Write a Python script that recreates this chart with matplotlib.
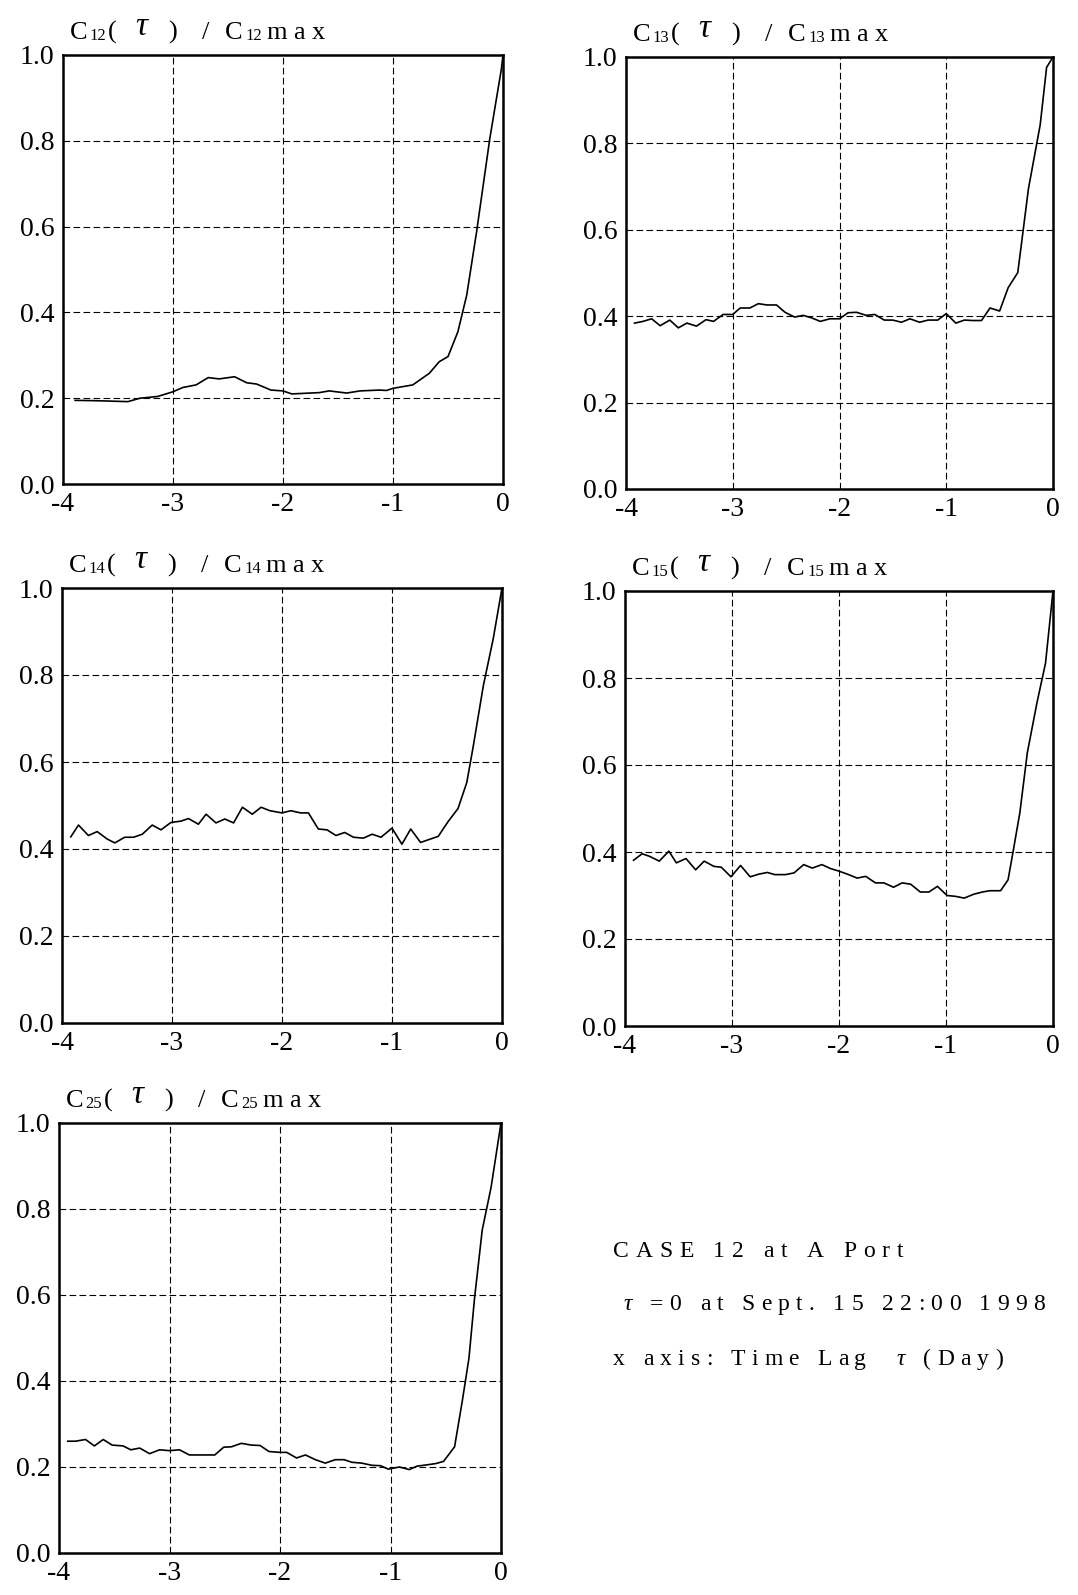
import matplotlib
matplotlib.use("Agg")
import matplotlib.pyplot as plt
from matplotlib.transforms import IdentityTransform
from matplotlib.font_manager import FontProperties

# ---- normalised cross-correlation curves, time lag tau in days ----
tau_c12 = [-3.89, -3.67, -3.41, -3.30, -3.14, -3.00, -2.91, -2.79, -2.68, -2.58,
           -2.44, -2.33, -2.24, -2.11, -2.00, -1.92, -1.67, -1.58, -1.42, -1.30,
           -1.12, -1.06, -1.00, -0.82, -0.67, -0.58, -0.50, -0.41, -0.33, -0.24,
           -0.12, -0.015, 0.0]
c12 = [0.195, 0.194, 0.192, 0.200, 0.204, 0.215, 0.225, 0.231, 0.248, 0.245,
       0.250, 0.236, 0.233, 0.219, 0.217, 0.210, 0.213, 0.217, 0.212, 0.217,
       0.219, 0.218, 0.223, 0.231, 0.258, 0.285, 0.297, 0.355, 0.440, 0.588,
       0.805, 0.967, 1.0]

tau_c13 = [-3.92, -3.84, -3.76, -3.68, -3.59, -3.51, -3.43, -3.34, -3.25, -3.18,
           -3.09, -3.00, -2.93, -2.84, -2.76, -2.68, -2.59, -2.51, -2.42, -2.34,
           -2.26, -2.18, -2.09, -2.00, -1.92, -1.84, -1.75, -1.67, -1.58, -1.50,
           -1.42, -1.34, -1.25, -1.17, -1.08, -1.00, -0.91, -0.83, -0.75, -0.67,
           -0.59, -0.50, -0.42, -0.33, -0.30, -0.23, -0.12, -0.06, 0.0]
c13 = [0.384, 0.388, 0.394, 0.378, 0.391, 0.373, 0.384, 0.377, 0.392, 0.388,
       0.404, 0.404, 0.419, 0.419, 0.429, 0.426, 0.426, 0.409, 0.398, 0.402,
       0.396, 0.388, 0.394, 0.394, 0.408, 0.409, 0.402, 0.404, 0.391, 0.391,
       0.386, 0.394, 0.386, 0.391, 0.391, 0.406, 0.384, 0.391, 0.390, 0.390,
       0.419, 0.412, 0.466, 0.501, 0.559, 0.695, 0.843, 0.976, 1.0]

tau_c14 = [-3.92, -3.85, -3.76, -3.68, -3.59, -3.52, -3.43, -3.35, -3.27, -3.18,
           -3.10, -3.01, -2.92, -2.85, -2.76, -2.69, -2.60, -2.52, -2.44, -2.36,
           -2.27, -2.19, -2.11, -2.00, -1.92, -1.83, -1.76, -1.67, -1.59, -1.51,
           -1.43, -1.35, -1.26, -1.18, -1.10, -1.00, -0.91, -0.83, -0.74, -0.65,
           -0.58, -0.49, -0.40, -0.32, -0.26, -0.17, -0.08, 0.0]
c14 = [0.428, 0.455, 0.431, 0.440, 0.423, 0.414, 0.427, 0.427, 0.434, 0.455,
       0.444, 0.461, 0.464, 0.470, 0.457, 0.480, 0.460, 0.469, 0.460, 0.496,
       0.480, 0.496, 0.488, 0.483, 0.488, 0.483, 0.483, 0.446, 0.444, 0.431,
       0.438, 0.427, 0.425, 0.434, 0.427, 0.448, 0.411, 0.446, 0.415, 0.423,
       0.429, 0.463, 0.493, 0.553, 0.638, 0.775, 0.883, 1.0]

tau_c15 = [-3.92, -3.84, -3.77, -3.68, -3.59, -3.52, -3.43, -3.34, -3.26, -3.17,
           -3.10, -3.01, -2.92, -2.83, -2.75, -2.67, -2.60, -2.50, -2.42, -2.33,
           -2.25, -2.16, -2.08, -2.00, -1.91, -1.83, -1.75, -1.66, -1.58, -1.49,
           -1.41, -1.33, -1.24, -1.16, -1.08, -0.99, -0.91, -0.83, -0.74, -0.66,
           -0.59, -0.49, -0.42, -0.37, -0.31, -0.24, -0.15, -0.07, 0.0]
c15 = [0.381, 0.396, 0.390, 0.379, 0.402, 0.375, 0.385, 0.359, 0.379, 0.367,
       0.365, 0.343, 0.369, 0.343, 0.349, 0.353, 0.348, 0.348, 0.352, 0.371,
       0.363, 0.371, 0.362, 0.356, 0.348, 0.340, 0.344, 0.329, 0.329, 0.319,
       0.329, 0.326, 0.308, 0.308, 0.321, 0.300, 0.298, 0.294, 0.303, 0.308,
       0.311, 0.311, 0.336, 0.405, 0.490, 0.628, 0.743, 0.834, 1.0]

tau_c25 = [-3.92, -3.85, -3.76, -3.68, -3.60, -3.52, -3.42, -3.35, -3.27, -3.18,
           -3.09, -3.00, -2.91, -2.82, -2.73, -2.59, -2.51, -2.44, -2.35, -2.26,
           -2.18, -2.10, -2.00, -1.94, -1.85, -1.77, -1.68, -1.59, -1.50, -1.42,
           -1.35, -1.26, -1.17, -1.09, -1.02, -0.92, -0.83, -0.76, -0.67, -0.59,
           -0.52, -0.42, -0.35, -0.29, -0.24, -0.17, -0.09, 0.0]
c25 = [0.260, 0.260, 0.264, 0.249, 0.264, 0.251, 0.249, 0.240, 0.244, 0.231,
       0.240, 0.238, 0.240, 0.228, 0.228, 0.228, 0.246, 0.247, 0.255, 0.251,
       0.250, 0.236, 0.234, 0.234, 0.221, 0.228, 0.217, 0.209, 0.217, 0.217,
       0.211, 0.209, 0.204, 0.203, 0.195, 0.200, 0.194, 0.202, 0.205, 0.208,
       0.213, 0.247, 0.354, 0.453, 0.591, 0.751, 0.850, 1.0]

pair_ids = ["12", "13", "14", "15", "25"]
x_ticks = [-4, -3, -2, -1, 0]
x_ticklabels = ["-4", "-3", "-2", "-1", "0"]
y_ticks = [0.0, 0.2, 0.4, 0.6, 0.8, 1.0]
y_ticklabels = ["0.0", "0.2", "0.4", "0.6", "0.8", "1.0"]
info_lines = ["CASE 12 at A Port", "\u03c4 =0 at Sept. 15 22:00 1998",
              "x axis: Time Lag  \u03c4 (Day)"]

W, H = 1078, 1595
SERIF = "Liberation Serif"
plt.rcParams["font.family"] = [SERIF, "DejaVu Serif"]
plt.rcParams["axes.unicode_minus"] = False

fig = plt.figure(figsize=(W / 100, H / 100), dpi=100)
fig.patch.set_facecolor("white")
renderer = fig.canvas.get_renderer()
PIX = IdentityTransform()

# panel boxes in pixels: left, top, right, bottom
boxes = [(63, 55, 503, 484), (626, 57, 1053, 489), (62, 588, 502, 1023),
         (625, 591, 1053, 1026), (59, 1123, 501, 1553)]
series = [(tau_c12, c12), (tau_c13, c13), (tau_c14, c14), (tau_c15, c15),
          (tau_c25, c25)]

grid_style = dict(color="black", lw=0.8, ls=(0, (6, 3)), zorder=1)


def put(x, y, s, size, style="normal"):
    fig.text(x, H - y, s, transform=PIX, fontsize=size, fontstyle=style,
             family=[SERIF, "DejaVu Serif"], ha="left", va="baseline",
             color="black")


def advance(ch, size, style="normal"):
    fp = FontProperties(family=SERIF, style=style, size=size)
    w3 = renderer.get_text_width_height_descent("x" + ch + "x", fp, ismath=False)[0]
    w2 = renderer.get_text_width_height_descent("xx", fp, ismath=False)[0]
    return w3 - w2


def tracked_line(x, y, text, size, width):
    styles = ["italic" if ch == "\u03c4" else "normal" for ch in text]
    advs = [advance(c, size, s) for c, s in zip(text, styles)]
    gap = (width - sum(advs[:-1]) - advs[-1]) / (len(text) - 1)
    for c, s, a in zip(text, styles, advs):
        if c != " ":
            put(x, y, c, size, s)
        x += a + gap


for (l, t, r, b), (tau, vals), pid in zip(boxes, series, pair_ids):
    ax = fig.add_axes([l / W, 1 - b / H, (r - l) / W, (b - t) / H])
    for xv in [-3, -2, -1]:
        ax.axvline(xv, **grid_style)
    for yv in [0.2, 0.4, 0.6, 0.8]:
        ax.axhline(yv, **grid_style)
    ax.plot(tau, vals, color="black", lw=1.2, zorder=3)
    ax.set_xlim(-4, 0)
    ax.set_ylim(0, 1)
    ax.set_xticks(x_ticks)
    ax.set_xticklabels(x_ticklabels)
    ax.set_yticks(y_ticks)
    ax.set_yticklabels(y_ticklabels)
    ax.tick_params(length=0, labelsize=20, colors="black")
    ax.tick_params(axis="x", pad=6)
    ax.tick_params(axis="y", pad=6)
    for sp in ax.spines.values():
        sp.set_linewidth(1.8)
        sp.set_color("black")

    # panel heading  C_ij( tau ) / C_ij max
    x0, yb = l + 7, t - 16
    put(x0, yb, "C", 19)
    put(x0 + 19, yb + 1, pid, 12)
    put(x0 + 38, yb, "(", 19)
    put(x0 + 65, yb - 4, "\u03c4", 24, "italic")
    put(x0 + 98, yb, ")", 19)
    put(x0 + 132, yb, "/", 19)
    put(x0 + 155, yb, "C", 19)
    put(x0 + 175, yb + 1, pid, 12)
    put(x0 + 196, yb, "m", 19)
    put(x0 + 223, yb, "a", 19)
    put(x0 + 242, yb, "x", 19)

# case description
tracked_line(613, 1257, info_lines[0], 17, 290)
tracked_line(623, 1310, info_lines[1], 17, 422)
tracked_line(613, 1365, info_lines[2], 17, 390)

fig.savefig("out.png", dpi=100, facecolor="white")
